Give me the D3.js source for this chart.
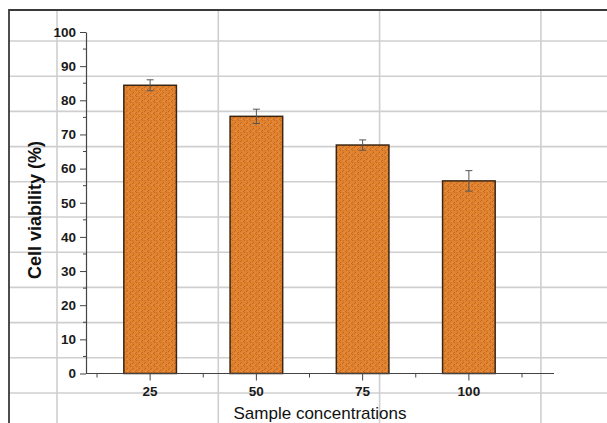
<!DOCTYPE html>
<html>
<head>
<meta charset="utf-8">
<script src="https://cdn.jsdelivr.net/npm/d3@7"></script>
<style>
  html, body { margin: 0; padding: 0; background: #fff; }
  svg { display: block; }
  text { font-family: "Liberation Sans", Arial, Helvetica, sans-serif; }
</style>
</head>
<body>
<svg id="chart" width="607" height="423"></svg>
<script>
// Cell viability at each sample concentration (mean and error)
const concentrations = ["25", "50", "75", "100"];
const viability = [84.4, 75.3, 66.9, 56.4];
const viabilityError = [1.6, 2.1, 1.5, 3.0];
const yTickValues = [0, 10, 20, 30, 40, 50, 60, 70, 80, 90, 100];

const W = 607, H = 423;
const svg = d3.select("#chart");

// Table-style background: dark frame plus light cell grid
const frame = { left: 9, top: 10 };
const gridRows = { start: 41, step: 35.2, count: 11 };
const gridCols = { start: 57, step: 161.3, count: 4 };

const bg = svg.append("g").attr("class", "table-grid");
d3.range(gridRows.count).forEach(i => {
  const y = gridRows.start + i * gridRows.step;
  bg.append("line").attr("x1", frame.left).attr("x2", W).attr("y1", y).attr("y2", y)
    .attr("stroke", "#cfcfcf").attr("stroke-width", 1.6);
});
d3.range(gridCols.count).forEach(i => {
  const x = gridCols.start + i * gridCols.step;
  bg.append("line").attr("x1", x).attr("x2", x).attr("y1", frame.top).attr("y2", H)
    .attr("stroke", "#cfcfcf").attr("stroke-width", 1.6);
});
bg.append("path")
  .attr("d", `M${frame.left},${H} V${frame.top} H${W}`)
  .attr("fill", "none").attr("stroke", "#3a3a3a").attr("stroke-width", 1.8);

// Textured orange fill for the bars
const defs = svg.append("defs");
const pat = defs.append("pattern").attr("id", "orangeTexture")
  .attr("patternUnits", "userSpaceOnUse").attr("width", 6).attr("height", 6);
pat.append("rect").attr("width", 6).attr("height", 6).attr("fill", "#e2832f");
pat.append("path").attr("d", "M0,4 L2,2 M3,6 L5,4 M4,1 L5,0")
  .attr("stroke", "#b5601f").attr("stroke-width", 0.9).attr("opacity", 0.85);
pat.append("circle").attr("cx", 1).attr("cy", 0.8).attr("r", 0.5).attr("fill", "#8a4515").attr("opacity", 0.6);
pat.append("path").attr("d", "M1,5.5 L2.5,5")
  .attr("stroke", "#f0a060").attr("stroke-width", 0.8).attr("opacity", 0.7);

// Scales
const plot = { left: 86, right: 554, top: 32, bottom: 373.5 };
const x = d3.scaleBand().domain(concentrations).range([97, 522])
  .paddingInner(0.505).paddingOuter(0.2525);
const y = d3.scaleLinear().domain([0, 100]).range([plot.bottom, plot.top]);
const step = x.step();

const g = svg.append("g");

// Bars
g.selectAll("rect.bar").data(concentrations).join("rect")
  .attr("class", "bar")
  .attr("x", d => x(d))
  .attr("y", (d, i) => y(viability[i]))
  .attr("width", x.bandwidth())
  .attr("height", (d, i) => y(0) - y(viability[i]))
  .attr("fill", "url(#orangeTexture)")
  .attr("stroke", "#3b2512").attr("stroke-width", 1.5);

// Error bars
const cx = d => x(d) + x.bandwidth() / 2;
const eb = g.selectAll("g.err").data(concentrations).join("g").attr("class", "err")
  .attr("stroke", "#555").attr("stroke-width", 1);
eb.append("line")
  .attr("x1", cx).attr("x2", cx)
  .attr("y1", (d, i) => y(viability[i] - viabilityError[i]))
  .attr("y2", (d, i) => y(viability[i] + viabilityError[i]));
eb.append("line")
  .attr("x1", d => cx(d) - 3.5).attr("x2", d => cx(d) + 3.5)
  .attr("y1", (d, i) => y(viability[i] + viabilityError[i]))
  .attr("y2", (d, i) => y(viability[i] + viabilityError[i]));
eb.append("line")
  .attr("x1", d => cx(d) - 3.5).attr("x2", d => cx(d) + 3.5)
  .attr("y1", (d, i) => y(viability[i] - viabilityError[i]))
  .attr("y2", (d, i) => y(viability[i] - viabilityError[i]));

const tickFont = sel => sel
  .attr("font-size", 13.5).attr("font-weight", "bold").attr("fill", "#1a1a1a")
  .style("font-family", '"Liberation Sans", Arial, sans-serif');

// Y axis
const yAxis = g.append("g").attr("transform", `translate(${plot.left},0)`)
  .call(d3.axisLeft(y).tickValues(yTickValues).tickSize(6).tickPadding(4).tickSizeOuter(0));
yAxis.select(".domain").attr("stroke", "#444").attr("stroke-width", 1.2);
yAxis.selectAll(".tick line").attr("stroke", "#444");
yAxis.selectAll(".tick text").call(tickFont);
// minor ticks at the fives
g.append("g").selectAll("line").data(d3.range(5, 100, 10)).join("line")
  .attr("x1", plot.left - 3).attr("x2", plot.left)
  .attr("y1", d => y(d)).attr("y2", d => y(d))
  .attr("stroke", "#444");

// X axis
g.append("line").attr("x1", plot.left).attr("x2", plot.right)
  .attr("y1", plot.bottom).attr("y2", plot.bottom)
  .attr("stroke", "#444").attr("stroke-width", 1.2);
const xAxis = g.append("g").attr("transform", `translate(0,${plot.bottom})`)
  .call(d3.axisBottom(x).tickSize(7).tickPadding(6).tickSizeOuter(0));
xAxis.select(".domain").remove();
xAxis.selectAll(".tick line").attr("stroke", "#444");
xAxis.selectAll(".tick text").call(tickFont);
// minor ticks between categories
const boundaries = concentrations.map(d => x(d) + x.bandwidth() / 2 - step / 2)
  .concat([x(concentrations[concentrations.length - 1]) + x.bandwidth() / 2 + step / 2]);
g.append("g").selectAll("line").data(boundaries).join("line")
  .attr("x1", d => d).attr("x2", d => d)
  .attr("y1", plot.bottom).attr("y2", plot.bottom + 4)
  .attr("stroke", "#444");

// Axis titles
svg.append("text")
  .attr("transform", `translate(41,210) rotate(-90)`)
  .attr("text-anchor", "middle")
  .attr("font-size", 18).attr("font-weight", "bold").attr("fill", "#111")
  .text("Cell viability (%)");
svg.append("text")
  .attr("x", 320).attr("y", 419)
  .attr("text-anchor", "middle")
  .attr("font-size", 17).attr("fill", "#111")
  .text("Sample concentrations");
</script>
</body>
</html>
